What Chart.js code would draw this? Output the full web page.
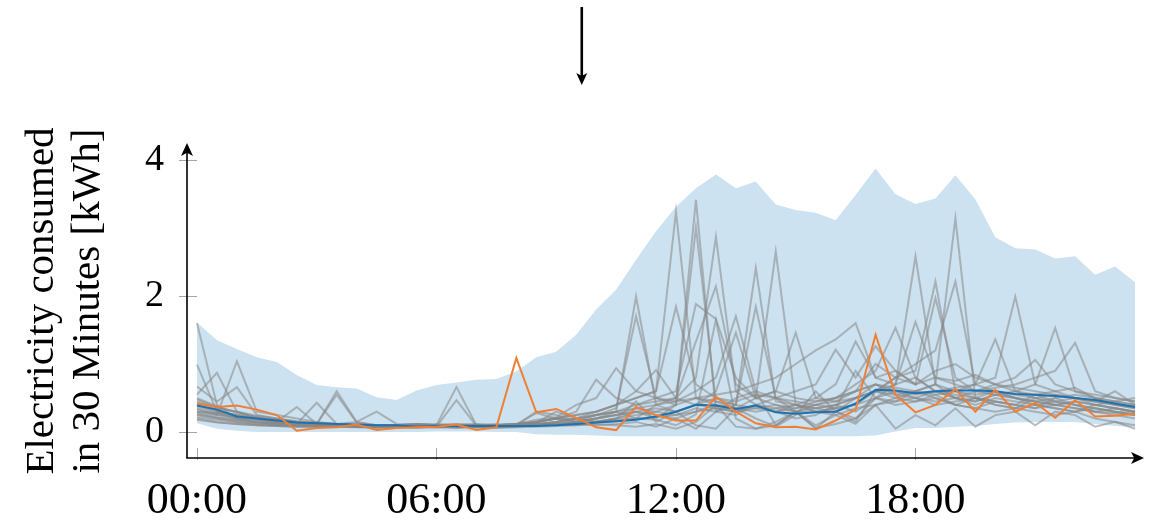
<!DOCTYPE html>
<html>
<head>
<meta charset="utf-8">
<script src="https://cdn.jsdelivr.net/npm/chart.js@4/dist/chart.umd.min.js"></script>
<style>
  html, body { margin: 0; padding: 0; background: #fff; }
</style>
</head>
<body>
<canvas id="chart" width="1151" height="521"></canvas>
<script>
const SERIF = '"Liberation Serif", "DejaVu Serif", serif';

// 48 half-hour slots, 00:00 .. 23:30
const slots = Array.from({ length: 48 }, (_, i) => i);
const tickSlots = [0, 12, 24, 36];
const tickLabels = ['00:00', '06:00', '12:00', '18:00'];
const yTicks = [0, 2, 4];
const ARROW_SLOT = 19.28; // marker arrow above the plot

// shaded range over all households
const bandHigh = [
  1.61, 1.35, 1.22, 1.10, 1.03, 0.84, 0.69, 0.66, 0.64, 0.51, 0.47, 0.61,
  0.69, 0.73, 0.77, 0.78, 0.89, 1.10, 1.18, 1.43, 1.80, 2.09, 2.53, 2.95,
  3.31, 3.58, 3.78, 3.58, 3.68, 3.34, 3.26, 3.22, 3.11, 3.48, 3.87, 3.49,
  3.35, 3.43, 3.77, 3.42, 2.86, 2.70, 2.68, 2.55, 2.58, 2.31, 2.43, 2.20
];
const bandLow = [
  0.13, 0.05, 0.02, 0.00, 0.00, 0.00, 0.00, 0.00, 0.00, 0.00, 0.00, 0.00,
  0.01, 0.01, 0.01, 0.00, 0.00, -0.03, -0.04, -0.04, -0.05, -0.06, -0.06, -0.06,
  -0.06, -0.06, -0.06, -0.06, -0.06, -0.06, -0.06, -0.06, -0.06, -0.06, -0.05, 0.01,
  0.06, 0.06, 0.08, 0.09, 0.12, 0.14, 0.15, 0.15, 0.15, 0.12, 0.09, 0.07
];

// mean profile (blue) and the highlighted household (orange)
const meanLoad = [
  0.39, 0.33, 0.23, 0.20, 0.17, 0.14, 0.13, 0.12, 0.11, 0.10, 0.10, 0.08,
  0.09, 0.09, 0.09, 0.09, 0.09, 0.09, 0.10, 0.12, 0.14, 0.16, 0.18, 0.23,
  0.30, 0.40, 0.39, 0.34, 0.39, 0.29, 0.27, 0.29, 0.30, 0.42, 0.62, 0.61,
  0.57, 0.60, 0.61, 0.61, 0.60, 0.56, 0.55, 0.53, 0.50, 0.47, 0.42, 0.37
];
const highlightLoad = [
  0.42, 0.37, 0.39, 0.33, 0.25, 0.02, 0.06, 0.07, 0.11, 0.03, 0.06, 0.07,
  0.08, 0.11, 0.03, 0.07, 1.09, 0.29, 0.34, 0.21, 0.07, 0.03, 0.37, 0.25,
  0.17, 0.17, 0.52, 0.30, 0.13, 0.07, 0.08, 0.04, 0.17, 0.33, 1.43, 0.55,
  0.29, 0.40, 0.63, 0.30, 0.62, 0.30, 0.43, 0.21, 0.47, 0.23, 0.24, 0.27
];

// other individual households (grey)
const householdLoads = [
  [1.60, 0.40, 0.20, 0.15, 0.12, 0.10, 0.08, 0.10, 0.08, 0.07, 0.08, 0.10,
   0.08, 0.10, 0.08, 0.07, 0.10, 0.12, 0.10, 0.15, 0.20, 0.25, 0.30, 0.20,
   0.40, 3.41, 0.30, 0.25, 0.40, 0.30, 0.20, 0.25, 0.40, 0.30, 0.50, 0.40,
   0.45, 0.50, 0.40, 0.35, 0.45, 0.40, 0.35, 0.50, 0.40, 0.30, 0.35, 0.30],
  [0.99, 0.30, 0.25, 0.20, 0.15, 0.12, 0.10, 0.12, 0.10, 0.09, 0.10, 0.12,
   0.10, 0.12, 0.10, 0.10, 0.12, 0.15, 0.20, 0.25, 0.30, 0.40, 0.50, 0.60,
   3.24, 0.50, 0.40, 0.30, 0.35, 0.40, 0.30, 0.30, 0.35, 0.40, 0.60, 0.70,
   0.80, 0.60, 0.50, 0.45, 0.55, 0.50, 0.40, 0.45, 0.40, 0.35, 0.30, 0.25],
  [0.55, 0.87, 0.30, 0.20, 0.18, 0.15, 0.12, 0.10, 0.09, 0.08, 0.10, 0.12,
   0.10, 0.09, 0.10, 0.12, 0.10, 0.15, 0.20, 0.15, 0.25, 0.30, 0.20, 0.40,
   0.50, 0.80, 2.87, 0.60, 0.40, 0.30, 0.40, 0.35, 0.30, 0.50, 0.70, 0.55,
   0.60, 0.70, 0.50, 0.40, 0.50, 0.45, 0.40, 0.35, 0.30, 0.40, 0.35, 0.30],
  [0.30, 0.25, 1.04, 0.30, 0.25, 0.20, 0.15, 0.12, 0.10, 0.10, 0.09, 0.10,
   0.08, 0.10, 0.09, 0.08, 0.10, 0.10, 0.12, 0.10, 0.15, 0.20, 0.30, 0.25,
   0.20, 0.30, 0.40, 0.35, 0.50, 2.65, 0.40, 0.30, 0.25, 0.35, 0.40, 0.50,
   0.60, 0.70, 3.14, 0.50, 0.40, 0.35, 0.50, 0.40, 0.35, 0.30, 0.25, 0.20],
  [0.67, 0.45, 0.66, 0.25, 0.20, 0.15, 0.12, 0.60, 0.15, 0.10, 0.09, 0.10,
   0.08, 0.09, 0.10, 0.08, 0.09, 0.10, 0.12, 0.15, 0.20, 0.30, 1.99, 0.40,
   0.30, 0.40, 0.35, 0.30, 0.40, 0.50, 0.30, 0.35, 0.40, 0.50, 0.60, 0.80,
   0.90, 2.21, 0.60, 0.50, 0.45, 0.40, 0.35, 0.40, 0.35, 0.30, 0.28, 0.25],
  [0.45, 0.35, 0.30, 0.22, 0.18, 0.14, 0.12, 0.55, 0.14, 0.10, 0.10, 0.09,
   0.10, 0.10, 0.09, 0.10, 0.12, 0.15, 0.20, 0.18, 0.25, 0.35, 1.70, 0.50,
   0.40, 3.00, 0.45, 0.35, 0.30, 0.35, 0.30, 0.40, 0.35, 0.40, 0.50, 0.70,
   2.58, 0.70, 0.60, 0.55, 0.60, 0.50, 0.45, 0.40, 0.45, 0.40, 0.35, 0.30],
  [0.40, 0.30, 0.25, 0.20, 0.15, 0.37, 0.12, 0.10, 0.09, 0.10, 0.08, 0.09,
   0.10, 0.66, 0.10, 0.09, 0.10, 0.15, 0.20, 0.25, 0.30, 0.40, 0.50, 0.60,
   1.84, 0.70, 0.50, 0.40, 2.41, 0.45, 0.40, 0.35, 0.40, 0.50, 0.60, 0.55,
   0.50, 0.60, 0.55, 0.50, 0.60, 0.50, 0.45, 0.40, 0.45, 0.40, 0.35, 0.30],
  [0.35, 0.25, 0.20, 0.18, 0.15, 0.12, 0.43, 0.12, 0.10, 0.10, 0.08, 0.09,
   0.08, 0.47, 0.09, 0.08, 0.09, 0.10, 0.15, 0.20, 0.25, 0.30, 0.40, 0.50,
   0.60, 1.88, 1.66, 0.80, 0.50, 0.40, 0.35, 0.40, 0.45, 0.50, 0.60, 0.80,
   1.00, 1.20, 2.21, 0.70, 0.60, 0.55, 0.50, 0.45, 0.40, 0.35, 0.30, 0.28],
  [0.30, 0.28, 0.22, 0.20, 0.18, 0.15, 0.14, 0.12, 0.15, 0.30, 0.12, 0.10,
   0.09, 0.10, 0.12, 0.10, 0.12, 0.15, 0.20, 0.30, 0.77, 0.50, 0.40, 0.45,
   0.50, 1.33, 2.14, 0.70, 0.50, 0.60, 0.50, 0.45, 0.50, 0.60, 0.70, 0.65,
   0.60, 0.55, 0.60, 0.70, 0.80, 1.99, 0.70, 0.60, 0.50, 0.45, 0.40, 0.35],
  [0.28, 0.22, 0.18, 0.15, 0.12, 0.10, 0.10, 0.09, 0.08, 0.09, 0.10, 0.12,
   0.10, 0.09, 0.08, 0.10, 0.12, 0.18, 0.22, 0.40, 0.50, 0.94, 0.60, 0.50,
   0.45, 0.60, 0.80, 1.70, 0.60, 0.50, 0.45, 0.40, 0.50, 0.70, 0.90, 1.53,
   0.80, 0.60, 0.50, 0.45, 0.55, 0.60, 0.70, 1.53, 0.60, 0.50, 0.40, 0.35],
  [0.25, 0.20, 0.15, 0.12, 0.10, 0.10, 0.09, 0.08, 0.10, 0.09, 0.08, 0.10,
   0.09, 0.08, 0.10, 0.09, 0.10, 0.12, 0.15, 0.20, 0.30, 0.40, 0.60, 0.91,
   0.50, 0.40, 0.60, 1.46, 0.50, 0.60, 1.46, 0.50, 0.45, 0.60, 0.70, 0.60,
   0.55, 0.60, 0.65, 0.70, 1.36, 0.60, 0.50, 0.55, 0.50, 0.45, 0.40, 0.38],
  [0.22, 0.18, 0.15, 0.12, 0.10, 0.09, 0.10, 0.09, 0.08, 0.07, 0.08, 0.09,
   0.08, 0.09, 0.07, 0.08, 0.09, 0.12, 0.15, 0.20, 0.25, 0.30, 0.35, 0.40,
   0.45, 0.50, 0.55, 0.60, 0.70, 0.80, 1.00, 1.20, 1.36, 1.60, 0.80, 0.70,
   1.62, 0.80, 0.70, 0.60, 0.65, 0.70, 0.80, 0.90, 1.31, 0.60, 0.50, 0.45],
  [0.20, 0.15, 0.12, 0.10, 0.09, 0.08, 0.09, 0.08, 0.09, 0.08, 0.07, 0.08,
   0.07, 0.08, 0.09, 0.07, 0.08, 0.10, 0.12, 0.15, 0.20, 0.25, 0.30, 0.35,
   0.30, 0.40, 0.50, 0.45, 0.55, 0.50, 0.60, 0.70, 1.21, 0.80, 1.26, 0.90,
   0.70, 1.97, 0.80, 0.60, 0.70, 0.80, 1.06, 0.70, 0.60, 0.55, 0.50, 0.45],
  [0.38, 0.28, 0.20, 0.15, 0.13, 0.11, 0.10, 0.09, 0.08, 0.09, 0.08, 0.07,
   0.08, 0.07, 0.08, 0.09, 0.08, 0.10, 0.12, 0.14, 0.16, 0.18, 0.20, 0.22,
   0.25, 0.30, 0.35, 0.30, 0.40, 0.35, 0.40, 0.50, 0.70, 1.33, 0.80, 0.90,
   0.70, 0.80, 0.75, 0.84, 0.70, 0.65, 0.60, 0.55, 0.50, 0.45, 0.60, 0.40],
  [0.18, 0.14, 0.12, 0.10, 0.09, 0.08, 0.07, 0.08, 0.07, 0.06, 0.07, 0.06,
   0.07, 0.06, 0.07, 0.06, 0.07, 0.08, 0.09, 0.10, 0.12, 0.10, 0.08, 0.12,
   0.05, 0.15, 0.40, 0.08, 0.05, 0.10, 0.30, 0.06, 0.12, 0.20, 0.40, 0.05,
   0.25, 0.10, 0.35, 0.08, 0.25, 0.30, 0.10, 0.30, 0.25, 0.08, 0.15, 0.05],
  [0.42, 0.32, 0.24, 0.18, 0.14, 0.12, 0.10, 0.09, 0.08, 0.08, 0.07, 0.08,
   0.09, 0.08, 0.07, 0.08, 0.10, 0.12, 0.10, 0.12, 0.15, 0.20, 0.45, 0.15,
   0.30, 0.10, 0.05, 0.35, 0.20, 0.08, 0.25, 0.60, 0.30, 0.15, 0.60, 0.50,
   0.45, 0.55, 0.40, 0.50, 0.45, 0.40, 0.55, 0.45, 0.50, 0.40, 0.45, 0.50],
  [0.50, 0.38, 0.28, 0.22, 0.16, 0.13, 0.11, 0.10, 0.09, 0.08, 0.07, 0.09,
   0.08, 0.07, 0.09, 0.08, 0.10, 0.30, 0.25, 0.15, 0.20, 0.25, 0.35, 0.30,
   0.25, 0.35, 0.30, 0.40, 1.84, 0.50, 0.40, 0.30, 0.35, 0.90, 0.50, 0.60,
   0.50, 0.45, 0.50, 0.60, 0.55, 0.50, 0.45, 0.50, 0.55, 0.50, 0.45, 0.40],
  [0.33, 0.26, 0.22, 0.19, 0.16, 0.14, 0.12, 0.11, 0.10, 0.09, 0.10, 0.11,
   0.10, 0.11, 0.10, 0.09, 0.11, 0.28, 0.20, 0.12, 0.14, 0.16, 0.20, 0.18,
   0.10, 0.26, 1.65, 0.20, 0.05, 0.15, 0.30, 0.10, 0.25, 0.12, 0.40, 0.45,
   0.50, 0.40, 0.45, 0.50, 0.40, 0.35, 0.40, 0.35, 0.30, 0.35, 0.30, 0.25],
  [0.48, 0.36, 0.30, 0.24, 0.20, 0.16, 0.13, 0.12, 0.10, 0.09, 0.10, 0.11,
   0.12, 0.10, 0.09, 0.10, 0.12, 0.14, 0.30, 0.20, 0.15, 0.20, 0.25, 0.30,
   0.40, 0.50, 0.45, 0.40, 0.35, 0.30, 0.35, 0.45, 0.50, 0.60, 1.00, 0.80,
   0.70, 0.90, 1.00, 0.80, 0.70, 0.60, 0.55, 0.60, 0.65, 0.50, 0.45, 0.40],
  [0.26, 0.21, 0.17, 0.14, 0.12, 0.11, 0.10, 0.10, 0.09, 0.10, 0.09, 0.08,
   0.09, 0.10, 0.11, 0.09, 0.10, 0.12, 0.14, 0.12, 0.10, 0.12, 0.15, 0.08,
   0.20, 0.05, 0.30, 0.50, 0.60, 0.10, 0.30, 0.05, 0.30, 0.20, 0.50, 0.45,
   0.60, 0.50, 0.40, 0.35, 0.30, 0.35, 0.30, 0.25, 0.30, 0.20, 0.15, 0.10]
];

const yTitle = ['Electricity consumed', 'in 30 Minutes [kWh]'];

function arrowHead(ctx, tipX, tipY, dx, dy, len, half) {
  // dx, dy: unit direction the arrow points to
  const bx = tipX - dx * len, by = tipY - dy * len;
  const nx = -dy, ny = dx;
  ctx.beginPath();
  ctx.moveTo(tipX, tipY);
  ctx.lineTo(bx + nx * half, by + ny * half);
  ctx.lineTo(tipX - dx * len * 0.75, tipY - dy * len * 0.75);
  ctx.lineTo(bx - nx * half, by - ny * half);
  ctx.closePath();
  ctx.fill();
}

const axisArrows = {
  id: 'axisArrows',
  afterDraw(chart) {
    const { ctx, chartArea: a, scales: { x, y } } = chart;
    ctx.save();
    const seg = (x1, y1, x2, y2) => {
      ctx.beginPath(); ctx.moveTo(x1, y1); ctx.lineTo(x2, y2); ctx.stroke();
    };

    // tick marks
    ctx.strokeStyle = '#a8a8a8';
    ctx.lineWidth = 1;
    yTicks.forEach(v => {
      const py = Math.round(y.getPixelForValue(v)) + 0.5;
      seg(a.left - 8, py, a.left + 10, py);
    });
    tickSlots.forEach(v => {
      const px = Math.round(x.getPixelForValue(v)) + 0.5;
      seg(px, a.bottom - 10, px, a.bottom + 2);
    });

    // axes with arrow heads
    ctx.strokeStyle = '#000';
    ctx.fillStyle = '#000';
    ctx.lineWidth = 1.6;
    seg(a.left, a.bottom, a.left, a.top + 4);
    seg(a.left - 0.8, a.bottom, a.right - 6, a.bottom);
    arrowHead(ctx, a.left, a.top - 3, 0, -1, 13, 6);
    arrowHead(ctx, a.right - 1, a.bottom, 1, 0, 13, 6);

    // axis title, two lines, rotated
    ctx.font = '41px ' + SERIF;
    ctx.textAlign = 'center';
    ctx.textBaseline = 'alphabetic';
    ctx.translate(53, (a.top + a.bottom) / 2 - 1);
    ctx.rotate(-Math.PI / 2);
    ctx.fillText(yTitle[0], 0, 0);
    ctx.fillText(yTitle[1], 0, 46);
    ctx.setTransform(1, 0, 0, 1, 0, 0);

    // marker arrow above the plot
    const mx = x.getPixelForValue(ARROW_SLOT);
    ctx.lineWidth = 2.6;
    seg(mx, 7, mx, 76);
    arrowHead(ctx, mx, 85, 0, 1, 12, 5.5);
    ctx.restore();
  }
};

const GREY = 'rgba(135,135,135,0.55)';

const datasets = [
  {
    data: highlightLoad, borderColor: '#f07f34', borderWidth: 2, fill: false
  },
  {
    data: meanLoad, borderColor: '#1f72b0', borderWidth: 2, fill: false
  },
  ...householdLoads.map(row => ({
    data: row, borderColor: GREY, borderWidth: 2, fill: false
  })),
  {
    data: bandHigh, borderWidth: 0, borderColor: 'rgba(0,0,0,0)', fill: false
  },
  {
    data: bandLow, borderWidth: 0, borderColor: 'rgba(0,0,0,0)',
    backgroundColor: '#cce2f0', fill: '-1'
  }
];

new Chart(document.getElementById('chart'), {
  type: 'line',
  data: { labels: slots, datasets },
  options: {
    responsive: false,
    animation: false,
    layout: { padding: { top: 146, right: 6, left: 0, bottom: 0 } },
    plugins: {
      legend: { display: false },
      tooltip: { enabled: false }
    },
    elements: {
      point: { radius: 0 },
      line: { tension: 0 }
    },
    scales: {
      x: {
        type: 'linear',
        min: -0.5,
        max: 47.5,
        grid: { display: false, drawTicks: false },
        border: { display: false },
        afterBuildTicks: s => { s.ticks = tickSlots.map(v => ({ value: v })); },
        ticks: {
          padding: 17,
          color: '#000',
          maxRotation: 0,
          autoSkip: false,
          font: { family: SERIF, size: 44 },
          callback: v => tickLabels[tickSlots.indexOf(v)]
        },
        afterFit: s => { s.height = 63; }
      },
      y: {
        min: -0.38,
        max: 4.2,
        grid: { display: false, drawTicks: false },
        border: { display: false },
        afterBuildTicks: s => { s.ticks = yTicks.map(v => ({ value: v })); },
        ticks: {
          padding: 23,
          color: '#000',
          font: { family: SERIF, size: 38 },
          callback: v => String(v)
        },
        afterFit: s => { s.width = 187; }
      }
    }
  },
  plugins: [axisArrows]
});
</script>
</body>
</html>
